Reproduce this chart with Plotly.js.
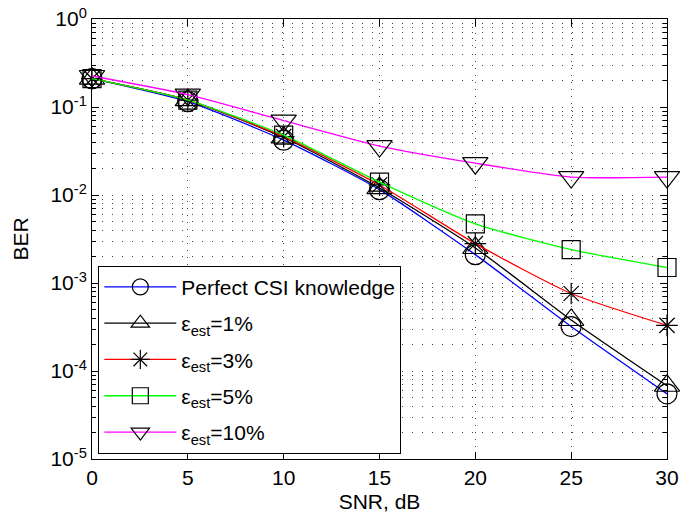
<!DOCTYPE html>
<html><head><meta charset="utf-8">
<script src="https://cdn.plot.ly/plotly-3.0.1.min.js"></script>
<style>html,body{margin:0;padding:0;background:#fff}#chart{width:686px;height:516px}</style>
</head><body><div id="chart"></div>
<script>
const snr = [0, 5, 10, 15, 20, 25, 30];
const berPerfect = [0.21, 0.115, 0.042, 0.0115, 0.0021, 0.00032, 0.000055];
const berEst1 = [0.21, 0.12, 0.045, 0.012, 0.0025, 0.00038, 0.000068];
const berEst3 = [0.21, 0.12, 0.046, 0.013, 0.0028, 0.00076, 0.00033];
const berEst5 = [0.21, 0.12, 0.048, 0.014, 0.0047, 0.0024, 0.0015];
const berEst10 = [0.225, 0.138, 0.07, 0.036, 0.023, 0.016, 0.016];
const names = ['Perfect CSI knowledge', 'ε<sub>est</sub>=1%', 'ε<sub>est</sub>=3%', 'ε<sub>est</sub>=5%', 'ε<sub>est</sub>=10%'];
const yTickVals = [1e-5, 1e-4, 1e-3, 1e-2, 1e-1, 1];
const yTickText = ['10<sup>-5</sup>', '10<sup>-4</sup>', '10<sup>-3</sup>', '10<sup>-2</sup>', '10<sup>-1</sup>', '10<sup>0</sup>'];
const yMinorVals = [2e-5,3e-5,4e-5,5e-5,6e-5,7e-5,8e-5,9e-5,2e-4,3e-4,4e-4,5e-4,6e-4,7e-4,8e-4,9e-4,2e-3,3e-3,4e-3,5e-3,6e-3,7e-3,8e-3,9e-3,2e-2,3e-2,4e-2,5e-2,6e-2,7e-2,8e-2,9e-2,0.2,0.3,0.4,0.5,0.6,0.7,0.8,0.9];

const series = [berPerfect, berEst1, berEst3, berEst5, berEst10];
const colors = ['#0000ff', '#000000', '#ff0000', '#00ff00', '#ff00ff'];
const symbols = ['circle-open', 'triangle-up-open', 'asterisk-open', 'square-open', 'triangle-down-open'];
const sizes = [20, 22, 18, 18, 22];

const traces = series.map((ys, i) => ({
  x: snr, y: ys, name: names[i], type: 'scatter', mode: 'lines+markers',
  legendgroup: 'g' + i,
  cliponaxis: false,
  line: {color: colors[i], width: 1.3, shape: 'spline', smoothing: 0.6},
  marker: {symbol: symbols[i], size: sizes[i], color: '#000', line: {color: '#000', width: 1.2}}
}));

const ff = 'Liberation Sans, Arial, sans-serif';
const layout = {
  width: 686, height: 516,
  margin: {l: 92, r: 19, t: 19, b: 57},
  paper_bgcolor: '#fff', plot_bgcolor: '#fff',
  font: {family: ff, size: 18, color: '#000'},
  showlegend: true,
  legend: {x: 0.011, y: 0.012, xanchor: 'left', yanchor: 'bottom', bgcolor: '#fff',
    bordercolor: '#000', borderwidth: 1, font: {family: ff, size: 21, color: '#000'},
    itemwidth: 72, tracegroupgap: 6, traceorder: 'grouped'},
  xaxis: {range: [0, 30], tickvals: [0, 5, 10, 15, 20, 25, 30], ticks: 'inside', ticklen: 7,
    tickcolor: '#000', linecolor: '#000', linewidth: 1, mirror: 'allticks', showline: true,
    showgrid: true, gridcolor: '#444', griddash: '1px,6px', gridwidth: 1, zeroline: false,
    title: {text: 'SNR, dB', font: {family: ff, size: 21}, standoff: 6},
    tickfont: {family: ff, size: 21}},
  yaxis: {type: 'log', range: [-5, 0], tickvals: yTickVals, ticktext: yTickText, ticks: 'inside', ticklen: 7,
    tickcolor: '#000', linecolor: '#000', linewidth: 1, mirror: 'allticks', showline: true,
    showgrid: true, gridcolor: '#444', griddash: '1px,9px', gridwidth: 1, zeroline: false,
    minor: {tickvals: yMinorVals,
      ticks: 'inside', ticklen: 4, tickcolor: '#000', showgrid: true, gridcolor: '#444', griddash: '1px,9px', gridwidth: 1},
    title: {text: 'BER', font: {family: ff, size: 21}, standoff: 16},
    tickfont: {family: ff, size: 21}}
};
Plotly.newPlot('chart', traces, layout, {displayModeBar: false, staticPlot: true});
</script></body></html>
